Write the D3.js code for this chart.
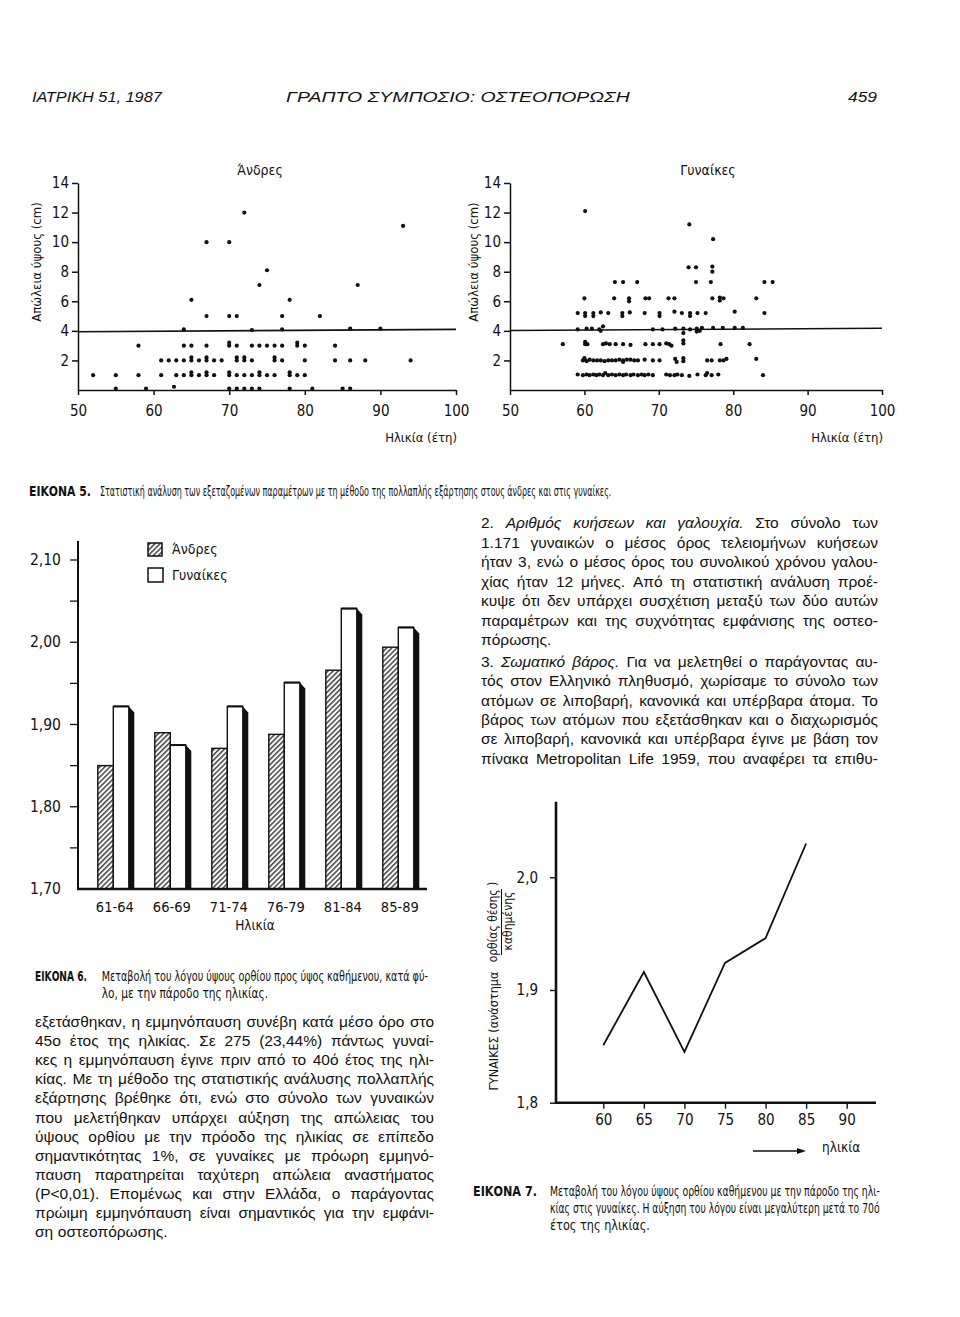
<!DOCTYPE html>
<html><head><meta charset="utf-8">
<script src="https://cdn.jsdelivr.net/npm/d3@7"></script>
<style>
html,body{margin:0;padding:0;background:#fff}
svg{display:block}
</style></head><body>
<svg id="page" width="960" height="1317"></svg>
<script>
// ---------------- DATA ----------------
// Figure 5: height loss (cm) vs age, men
const menPoints = [
 [67,10],[70,10],[72,12],[93,11.1],[75,8.1],[74,7.1],[87,7.1],[65,6.1],[78,6.1],
 [67,5],[70,5],[71,5],[77,5],[82,5],
 [64,4.1],[73,4.05],[77,4.1],[86,4.15],[90,4.15],
 [58,3],[64,3],[65,3],[67,3],[70,3],[70,3.2],[71,3],[73,3],[74,3],[75,3],[76,3],[77,3],[79,3],[79,3.2],[80,3],[84,3],
 [61,2],[62,2],[63,2],[64,2],[65,2],[65,2.2],[66,2],[67,2],[67,2.2],[68,2],[69,2],[71,2],[71,2.2],[72,2],[72,2.2],[73,2],[76,2],[76,2.2],[77,2],[80,2],[84,2],[86,2],[88,2],[94,2],
 [52,1],[55,1],[58,1],[61,1],[63,1],[64,1],[65,1],[65,1.2],[66,1],[67,1],[67,1.2],[68,1],[70,1],[70,1.2],[71,1],[72,1],[73,1],[74,1],[74,1.2],[75,1],[76,1],[78,1],[78,1.2],[79,1],[80,1],
 [55,0.1],[59,0.1],[62.7,0.22],[70,0.1],[71,0.1],[72,0.1],[73,0.1],[74,0.1],[78,0.1],[81,0.1],[85,0.1],[86,0.1]
];
// Figure 5: women
const womenPoints = [
 [60.1,12.1],[74.1,11.2],[77.3,10.2],
 [74,8.3],[75,8.3],[77.2,8.0],[77.2,8.35],
 [64.1,7.3],[65.2,7.3],[67.1,7.3],[75,7.3],[77,7.3],[84.2,7.3],[85.3,7.3],
 [60,6.2],[64,6.2],[66,6.2],[66,6.0],[68.2,6.2],[68.7,6.2],[71.3,6.2],[72.1,6.2],[77.2,6.2],[78.2,6.25],[78.2,6.05],[78.7,6.2],[83.1,6.2],
 [59.1,5.2],[60.1,5.2],[60.1,5.0],[61.2,5.2],[61.2,5.0],[62.2,5.25],[63.2,5.2],[65.1,5.2],[65.1,5.0],[66.1,5.25],[68.1,5.2],[70.1,5.2],[70.1,5.0],[72.1,5.3],[73.1,5.2],[74.2,5.2],[74.2,5.0],[75.2,5.2],[76.3,5.2],[80.2,5.3],[84.2,5.2],
 [59.1,4.1],[60.3,4.15],[61,4.15],[62,4.1],[62.5,4.3],[62.2,4.0],[69.2,4.1],[70.5,4.1],[72.2,4.15],[73.3,4.15],[73.3,3.85],[74.2,4.1],[75.1,4.15],[75.1,3.95],[75.5,4.0],[75.8,4.2],[77.3,4.2],[78.6,4.2],[80.2,4.2],[81.3,4.2],
 [57.1,3.1],[60.1,3.1],[60.1,3.25],[60.4,3.1],[62.5,3.1],[62.9,3.15],[63.4,3.1],[64.2,3.1],[65.2,3.1],[66.2,3.05],[68.2,3.1],[69.2,3.1],[70.1,3.1],[71,3.15],[71.4,3.1],[71.7,3.0],[73.3,3.35],[73.3,3.15],[78.3,3.1],[82.2,3.1],
 [59.8,2.0],[60,2.15],[60.3,1.95],[60.7,2.05],[61.2,2.0],[61.7,2.0],[62.2,2.0],[62.7,1.95],[63.2,2.0],[63.7,2.0],[64.2,2.0],[64.7,2.05],[65.2,2.0],[65.2,1.9],[65.7,2.05],[66.2,2.05],[66.7,2.0],[67.2,2.0],[68.1,2.05],[69.2,2.0],[70.1,2.0],[72.2,2.1],[72.4,1.9],[73.3,2.15],[73.3,1.95],[76.5,2.0],[77.1,2.0],[78.2,2.0],[78.7,2.0],[79.1,2.1],[83.1,2.1],
 [59.1,1.05],[59.8,1.0],[60.3,1.05],[60.7,1.0],[61.2,1.05],[61.6,1.0],[62,1.05],[62.5,1.0],[62.8,1.15],[63.2,1.0],[63.7,1.05],[64.2,1.0],[64.7,1.05],[65.2,1.0],[65.6,1.05],[66.2,1.0],[66.6,1.05],[67.2,1.0],[67.7,1.05],[68.1,1.0],[68.6,1.05],[69.2,1.0],[71,1.05],[71.5,1.0],[72.1,1.0],[72.5,1.05],[73.1,1.0],[74.1,0.95],[75.2,1.05],[76.3,1.0],[76.5,1.15],[77.1,1.0],[78,1.05],[84,1.0]
];
const refLineMen = [[50,3.94],[100,4.10]];
const refLineWomen = [[50,4.02],[100,4.18]];
const scatterXTicks = [50,60,70,80,90,100];
const scatterYTicks = [2,4,6,8,10,12,14];

// Figure 6: standing / sitting height ratio by age group
const barCategories = ["61-64","66-69","71-74","76-79","81-84","85-89"];
const barMen   = [1.850,1.890,1.871,1.888,1.966,1.994];
const barWomen = [1.922,1.875,1.922,1.951,2.041,2.018];
const barMinorTicks = [1.75,1.80,1.85,1.90,1.95,2.00,2.05,2.10];
const barLabelTicks = [1.70,1.80,1.90,2.00,2.10];

// Figure 7: women ratio vs age
const lineAges  = [60,65,70,75,80,85];
const lineRatio = [1.851,1.916,1.845,1.924,1.946,2.030];
const lineXTicks = [60,65,70,75,80,85,90];
const lineYTicks = [1.8,1.9,2.0];

// ---------------- TEXT ----------------
const COND = "'Liberation Sans Narrow','DejaVu Sans Condensed','Arial Narrow',sans-serif";
const BODY = "'Liberation Sans',Arial,Helvetica,sans-serif";

const svg = d3.select("#page");
svg.append("rect").attr("width",960).attr("height",1317).attr("fill","#fff");

const defs = svg.append("defs");
const pat = defs.append("pattern").attr("id","hatch").attr("patternUnits","userSpaceOnUse")
  .attr("width",3.6).attr("height",3.6).attr("patternTransform","rotate(45)");
pat.append("rect").attr("width",3.6).attr("height",3.6).attr("fill","#fff");
pat.append("line").attr("x1",0.8).attr("y1",0).attr("x2",0.8).attr("y2",3.6).attr("stroke","#111").attr("stroke-width",1.2);

function txt(g,x,y,s,o={}){
  const t=g.append("text").attr("x",x).attr("y",y).text(s)
   .attr("font-family",o.family||COND).attr("font-size",o.size||14)
   .attr("fill","#111");
  if(o.anchor) t.attr("text-anchor",o.anchor);
  if(o.weight) t.attr("font-weight",o.weight);
  if(o.style) t.attr("font-style",o.style);
  if(o.rot!==undefined) t.attr("transform",`rotate(${o.rot},${x},${y})`);
  return t;
}
// text squeezed horizontally (via transform) to a target width
function fit(g,x,y,s,w,o={}){
  const gg=g.append("g");
  const t=gg.append("text").attr("x",0).attr("y",0).text(s)
   .attr("font-family",o.family||COND).attr("font-size",o.size||14).attr("fill","#111");
  if(o.weight) t.attr("font-weight",o.weight);
  if(o.style) t.attr("font-style",o.style);
  const nat=t.node().getComputedTextLength();
  gg.attr("transform",`translate(${x},${y}) scale(${w/nat},1)`);
  return gg;
}

// header
fit(svg,32,102,"ΙΑΤΡΙΚΗ 51, 1987",130,{family:BODY,size:15,style:"italic"});
fit(svg,286,102,"ΓΡΑΠΤΟ ΣΥΜΠΟΣΙΟ: ΟΣΤΕΟΠΟΡΩΣΗ",344,{family:BODY,size:15,style:"italic"});
fit(svg,848,102,"459",29,{family:BODY,size:15,style:"italic"});

// ---------------- SCATTERS ----------------
function scatter(x0,x1,points,ref,title,titleX,ylabX){
  const g=svg.append("g");
  const x=d3.scaleLinear().domain([50,100]).range([x0,x1]);
  const y=d3.scaleLinear().domain([0,14]).range([390,183]);
  const ya=g.append("g").attr("transform",`translate(${x0},0)`)
    .call(d3.axisLeft(y).tickValues(scatterYTicks).tickSize(6).tickSizeOuter(0).tickPadding(3).tickFormat(d3.format("d")));
  const xa=g.append("g").attr("transform",`translate(0,390)`)
    .call(d3.axisBottom(x).tickValues(scatterXTicks).tickSize(5).tickSizeOuter(0).tickPadding(10).tickFormat(d3.format("d")));
  [ya,xa].forEach(a=>{
    a.selectAll("path,line").attr("stroke","#111").attr("stroke-width",1.5);
    a.selectAll("text").attr("font-family",COND).attr("font-size",15).attr("fill","#111");
  });
  const line=d3.line().x(d=>x(d[0])).y(d=>y(d[1]));
  g.append("path").attr("d",line(ref)).attr("stroke","#111").attr("stroke-width",1.6).attr("fill","none");
  g.selectAll("circle").data(points).join("circle")
    .attr("cx",d=>x(d[0])).attr("cy",d=>y(d[1])).attr("r",2.1).attr("fill","#111");
  txt(g,titleX,175,title,{size:14,anchor:"middle"});
  txt(g,ylabX,262,"Απώλεια ύψους (cm)",{size:13,anchor:"middle",rot:-90});
  txt(g,x1+1,442,"Ηλικία (έτη)",{size:13,anchor:"end"});
}
scatter(78,456,menPoints,refLineMen,"Άνδρες",260,41);
scatter(510,882,womenPoints,refLineWomen,"Γυναίκες",708,478);

// captions
fit(svg,29,496,"ΕΙΚΟΝΑ 5.",62,{size:14,weight:"bold"});
fit(svg,100,496,"Στατιστική ανάλυση των εξεταζομένων παραμέτρων με τη μέθοδο της πολλαπλής εξάρτησης στους άνδρες και στις γυναίκες.",512,{size:14});

// ---------------- BAR CHART ----------------
(function(){
  const g=svg.append("g");
  const y=d3.scaleLinear().domain([1.70,2.10]).range([889,560]);
  const xb=d3.scaleBand().domain(barCategories).range([84.8,426.8]);
  const bw=15.5, axisY=889;
  g.selectAll("line.mt").data(barMinorTicks).join("line")
    .attr("x1",70).attr("x2",78).attr("y1",d=>y(d)).attr("y2",d=>y(d)).attr("stroke","#111").attr("stroke-width",1.3);
  g.selectAll("text.yl").data(barLabelTicks).join("text")
    .attr("x",61).attr("y",d=>y(d)+5).attr("text-anchor","end")
    .attr("font-family",COND).attr("font-size",15.5).attr("fill","#111")
    .text(d=>d3.format(".2f")(d).replace(".",","));
  barCategories.forEach((c,i)=>{
    const cx=xb(c)+xb.bandwidth()/2;
    const ym=y(barMen[i]), yw=y(barWomen[i]);
    g.append("rect").attr("x",cx-bw).attr("y",ym).attr("width",bw).attr("height",axisY-ym)
      .attr("fill","url(#hatch)").attr("stroke","#111").attr("stroke-width",1.4);
    g.append("path").attr("d",`M${cx+bw},${yw}L${cx+bw+5.5},${yw+6}L${cx+bw+5.5},${axisY}L${cx+bw},${axisY}Z`).attr("fill","#111");
    g.append("rect").attr("x",cx).attr("y",yw).attr("width",bw).attr("height",axisY-yw)
      .attr("fill","#fff").attr("stroke","#111").attr("stroke-width",1.4);
    g.append("line").attr("x1",cx).attr("x2",cx+bw).attr("y1",yw).attr("y2",yw).attr("stroke","#111").attr("stroke-width",2);
    txt(g,cx+1.5,912,c,{size:14.5,anchor:"middle"});
  });
  g.append("line").attr("x1",78).attr("x2",78).attr("y1",541).attr("y2",890).attr("stroke","#111").attr("stroke-width",2);
  g.append("line").attr("x1",77).attr("x2",427).attr("y1",889).attr("y2",889).attr("stroke","#111").attr("stroke-width",2.6);
  txt(g,255,930,"Ηλικία",{size:13.5,anchor:"middle"});
  g.append("rect").attr("x",148).attr("y",543).attr("width",14).attr("height",13).attr("fill","url(#hatch)").attr("stroke","#111").attr("stroke-width",1.5);
  g.append("rect").attr("x",148).attr("y",568).attr("width",15).attr("height",14).attr("fill","#fff").attr("stroke","#111").attr("stroke-width",1.5);
  txt(g,172,554,"Άνδρες",{size:14});
  txt(g,172,580,"Γυναίκες",{size:14});
})();

fit(svg,35,981,"ΕΙΚΟΝΑ 6.",52,{size:14,weight:"bold"});
fit(svg,101.7,981,"Μεταβολή του λόγου ύψους ορθίου προς ύψος καθήμενου, κατά φύ-",326.6,{size:14});
fit(svg,101.7,998,"λο, με την πάροδο της ηλικίας.",166.6,{size:14});

// ---------------- LINE CHART ----------------
(function(){
  const g=svg.append("g");
  const x=d3.scaleLinear().domain([60,90]).range([603.3,846.7]);
  const y=d3.scaleLinear().domain([1.8,2.0]).range([1102.7,877.3]);
  const xa=g.append("g").attr("transform","translate(0,1102.7)")
    .call(d3.axisBottom(x).tickValues(lineXTicks).tickSize(6).tickSizeOuter(0).tickPadding(6).tickFormat(d3.format("d")));
  xa.select(".domain").remove();
  const ya=g.append("g").attr("transform","translate(556,0)")
    .call(d3.axisLeft(y).tickValues(lineYTicks).tickSize(6).tickSizeOuter(0).tickPadding(12).tickFormat(d=>d3.format(".1f")(d).replace(".",",")));
  ya.select(".domain").remove();
  [xa,ya].forEach(a=>{
    a.selectAll("line").attr("stroke","#111").attr("stroke-width",1.4);
    a.selectAll("text").attr("font-family",COND).attr("font-size",15).attr("fill","#111");
  });
  g.append("line").attr("x1",556).attr("x2",556).attr("y1",801.7).attr("y2",1104).attr("stroke","#111").attr("stroke-width",2.6);
  g.append("line").attr("x1",555).attr("x2",876).attr("y1",1102.7).attr("y2",1102.7).attr("stroke","#111").attr("stroke-width",2.6);
  const line=d3.line().x((d,i)=>x(lineAges[i])).y(d=>y(d));
  g.append("path").attr("d",line(lineRatio)).attr("fill","none").attr("stroke","#111").attr("stroke-width",1.8);
  txt(g,498,1031,"ΓΥΝΑΙΚΕΣ (ανάστημα",{size:12.5,anchor:"middle",rot:-90});
  txt(g,497,922,"ορθίας θέσης )",{size:12,anchor:"middle",rot:-90});
  g.append("line").attr("x1",501.5).attr("x2",501.5).attr("y1",889).attr("y2",955).attr("stroke","#111").attr("stroke-width",1);
  txt(g,512,921,"καθημένης",{size:12,anchor:"middle",rot:-90});
  g.append("line").attr("x1",753).attr("x2",798).attr("y1",1151).attr("y2",1151).attr("stroke","#111").attr("stroke-width",1.4);
  g.append("path").attr("d","M797,1148L806,1151L797,1154Z").attr("fill","#111");
  txt(g,822,1152,"ηλικία",{size:13.5});
})();

fit(svg,473,1196,"ΕΙΚΟΝΑ 7.",64,{size:14,weight:"bold"});
fit(svg,550,1196,"Μεταβολή του λόγου ύψους ορθίου καθήμενου με την πάροδο της ηλι-",330,{size:14});
fit(svg,550,1213,"κίας στις γυναίκες. Η αύξηση του λόγου είναι μεγαλύτερη μετά το 70ό",330,{size:14});
fit(svg,550,1230,"έτος της ηλικίας.",100,{size:14});

// ---------------- BODY TEXT (justified) ----------------
const rightLines = [
 ["2. *Αριθμός κυήσεων και γαλουχία.* Στο σύνολο των",true],
 ["1.171 γυναικών ο μέσος όρος τελειομήνων κυήσεων",true],
 ["ήταν 3, ενώ ο μέσος όρος του συνολικού χρόνου γαλου-",true],
 ["χίας ήταν 12 μήνες. Από τη στατιστική ανάλυση προέ-",true],
 ["κυψε ότι δεν υπάρχει συσχέτιση μεταξύ των δύο αυτών",true],
 ["παραμέτρων και της συχνότητας εμφάνισης της οστεο-",true],
 ["πόρωσης.",false],
 ["3. *Σωματικό βάρος.* Για να μελετηθεί ο παράγοντας αυ-",true],
 ["τός στον Ελληνικό πληθυσμό, χωρίσαμε το σύνολο των",true],
 ["ατόμων σε λιποβαρή, κανονικά και υπέρβαρα άτομα. Το",true],
 ["βάρος των ατόμων που εξετάσθηκαν και ο διαχωρισμός",true],
 ["σε λιποβαρή, κανονικά και υπέρβαρα έγινε με βάση τον",true],
 ["πίνακα Metropolitan Life 1959, που αναφέρει τα επιθυ-",true]
];
const rightY = [523,542.5,562,581.5,601,620.5,640,662,681.3,700.6,720,739.3,758.6];
const leftLines = [
 ["εξετάσθηκαν, η εμμηνόπαυση συνέβη κατά μέσο όρο στο",true],
 ["45ο έτος της ηλικίας. Σε 275 (23,44%) πάντως γυναί-",true],
 ["κες η εμμηνόπαυση έγινε πριν από το 40ό έτος της ηλι-",true],
 ["κίας. Με τη μέθοδο της στατιστικής ανάλυσης πολλαπλής",true],
 ["εξάρτησης βρέθηκε ότι, ενώ στο σύνολο των γυναικών",true],
 ["που μελετήθηκαν υπάρχει αύξηση της απώλειας του",true],
 ["ύψους ορθίου με την πρόοδο της ηλικίας σε επίπεδο",true],
 ["σημαντικότητας 1%, σε γυναίκες με πρόωρη εμμηνό-",true],
 ["παυση παρατηρείται ταχύτερη απώλεια αναστήματος",true],
 ["(P<0,01). Επομένως και στην Ελλάδα, ο παράγοντας",true],
 ["πρώιμη εμμηνόπαυση είναι σημαντικός για την εμφάνι-",true],
 ["ση οστεοπόρωσης.",false]
];
const leftY = [1022,1041.1,1060.2,1079.3,1098.4,1117.5,1136.6,1155.7,1174.8,1193.9,1213,1232.1];

function bodyLine(str,justify,x0,x1,yc){
  const words=[]; let it=false;
  str.split(" ").forEach(w=>{
    let s=w, end=false;
    if(s.startsWith("*")){it=true;s=s.slice(1);}
    const cur=it;
    if(s.endsWith("*")){s=s.slice(0,-1);end=true;}
    words.push({t:s,it:cur});
    if(end) it=false;
  });
  let size=15.5;
  const t=svg.append("text").attr("y",yc+5).attr("font-family",BODY).attr("fill","#111");
  const spans=words.map(w=>t.append("tspan").text(w.t).attr("font-style",w.it?"italic":null));
  let widths,total,gap;
  for(let k=0;k<12;k++){
    t.attr("font-size",size);
    widths=spans.map(s=>s.node().getComputedTextLength());
    total=d3.sum(widths);
    gap=justify?(x1-x0-total)/(words.length-1):size*0.3;
    if(!justify||gap>=3) break;
    size-=0.25;
  }
  let x=x0;
  spans.forEach((s,i)=>{s.attr("x",x);x+=widths[i]+gap;});
}
rightLines.forEach((l,i)=>bodyLine(l[0],l[1],481,878,rightY[i]));
leftLines.forEach((l,i)=>bodyLine(l[0],l[1],35,434,leftY[i]));
</script>
</body></html>
